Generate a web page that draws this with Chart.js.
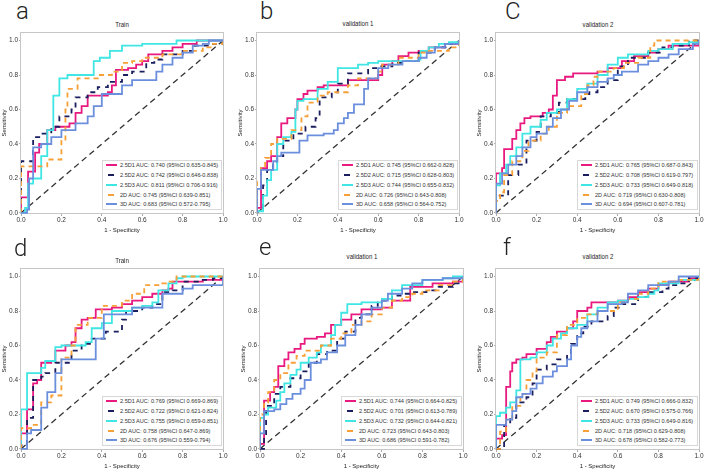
<!DOCTYPE html>
<html lang="en">
<head>
<meta charset="UTF-8" />
<title>ROC curves</title>
<style>
  body { margin: 0; background: #fff; width: 709px; height: 471px; position: relative; overflow: hidden;
         font-family: "Liberation Sans", Arial, sans-serif; }
  .panel { position: absolute; }
  .letter { position: absolute; font-family: Roboto, "Liberation Sans", sans-serif; font-weight: 300;
            font-size: 24px; line-height: 24px; color: #222; }
  .title { position: absolute; font-size: 7px; line-height: 9px; color: #222; transform: translate(-50%, -50%) scaleX(0.87); white-space: nowrap; }
  .legend { position: absolute; background: #fff; border: 1px solid #d8d8d8; box-sizing: border-box; }
  .row { position: absolute; left: 17px; font-size: 6.2px; line-height: 8px; color: #333; white-space: nowrap;
         transform: scaleX(0.9); transform-origin: left center; }
  .swatch { position: absolute; left: 2.5px; width: 11px; height: 0; border-top: 2px solid; }
</style>
</head>
<body>
<script src="https://cdn.jsdelivr.net/npm/chart.js"></script>
<script>
  // ---- data ----
  const seriesNames = ["2.5D1", "2.5D2", "2.5D3", "2D", "3D"];
  const panelLetters = ["a", "b", "C", "d", "e", "f"];
  const panelTitles = ["Train", "validation 1", "validation 2", "Train", "validation 1", "validation 2"];
  const tickValues = [0, 0.2, 0.4, 0.6, 0.8, 1.0];

  const aucA = [0.740, 0.742, 0.811, 0.745, 0.683];
  const ciA = ["0.635-0.845", "0.646-0.838", "0.706-0.916", "0.639-0.851", "0.572-0.795"];
  const aucB = [0.745, 0.715, 0.744, 0.726, 0.658];
  const ciB = ["0.662-0.828", "0.628-0.803", "0.655-0.832", "0.643-0.808", "0.564-0.752"];
  const aucC = [0.765, 0.708, 0.733, 0.719, 0.694];
  const ciC = ["0.687-0.843", "0.619-0.797", "0.649-0.818", "0.630-0.808", "0.607-0.781"];
  const aucD = [0.769, 0.722, 0.755, 0.758, 0.676];
  const ciD = ["0.669-0.869", "0.621-0.824", "0.659-0.851", "0.647-0.869", "0.559-0.794"];
  const aucE = [0.744, 0.701, 0.732, 0.723, 0.686];
  const ciE = ["0.664-0.825", "0.613-0.789", "0.644-0.821", "0.643-0.803", "0.591-0.782"];
  const aucF = [0.749, 0.670, 0.733, 0.718, 0.678];
  const ciF = ["0.666-0.832", "0.575-0.766", "0.649-0.816", "0.629-0.808", "0.582-0.773"];

  // ROC corners [fpr, tpr]
  const a_25D1 = [[0,0],[0,0.09],[0.035,0.24],[0.07,0.35],[0.09,0.4],[0.13,0.48],[0.17,0.5],[0.24,0.52],[0.27,0.58],[0.3,0.62],[0.33,0.68],[0.43,0.7],[0.45,0.74],[0.47,0.83],[0.53,0.84],[0.57,0.86],[0.6,0.88],[0.63,0.92],[0.7,0.94],[0.75,0.96],[0.8,0.98],[0.87,1],[1,1]];
  const a_25D2 = [[0,0],[0,0.3],[0.06,0.44],[0.1,0.46],[0.15,0.5],[0.19,0.56],[0.25,0.6],[0.27,0.67],[0.33,0.7],[0.38,0.73],[0.43,0.76],[0.5,0.8],[0.55,0.82],[0.62,0.87],[0.66,0.89],[0.7,0.92],[0.8,0.94],[0.86,0.97],[0.95,0.98],[1,1]];
  const a_25D3 = [[0,0],[0.02,0.03],[0.035,0.17],[0.06,0.2],[0.1,0.33],[0.13,0.48],[0.16,0.68],[0.19,0.78],[0.23,0.8],[0.36,0.88],[0.39,0.9],[0.44,0.94],[0.5,0.97],[0.6,0.98],[0.77,1],[1,1]];
  const a_2D = [[0,0],[0,0.27],[0.1,0.27],[0.13,0.31],[0.2,0.42],[0.22,0.6],[0.23,0.72],[0.28,0.78],[0.38,0.8],[0.45,0.82],[0.5,0.87],[0.55,0.88],[0.6,0.9],[0.7,0.92],[0.8,0.94],[0.9,0.96],[0.95,0.98],[1,1]];
  const a_3D = [[0,0],[0.03,0.02],[0.04,0.2],[0.06,0.38],[0.1,0.4],[0.15,0.44],[0.2,0.48],[0.27,0.52],[0.33,0.56],[0.36,0.62],[0.4,0.69],[0.5,0.74],[0.55,0.77],[0.67,0.82],[0.7,0.86],[0.75,0.9],[0.8,0.93],[0.85,0.97],[0.9,0.98],[0.93,1],[1,1]];

  const b_25D1 = [[0,0],[0,0.03],[0.02,0.26],[0.05,0.3],[0.07,0.33],[0.1,0.44],[0.12,0.52],[0.15,0.55],[0.19,0.6],[0.2,0.66],[0.23,0.69],[0.25,0.71],[0.3,0.73],[0.33,0.74],[0.45,0.77],[0.6,0.8],[0.62,0.86],[0.67,0.88],[0.7,0.91],[0.75,0.93],[0.8,0.94],[0.85,0.96],[0.93,0.98],[1,1]];
  const b_25D2 = [[0,0],[0,0.03],[0.03,0.16],[0.05,0.25],[0.08,0.28],[0.1,0.33],[0.13,0.42],[0.18,0.46],[0.24,0.5],[0.29,0.55],[0.31,0.67],[0.37,0.7],[0.4,0.75],[0.45,0.81],[0.55,0.84],[0.6,0.85],[0.67,0.87],[0.72,0.88],[0.8,0.93],[0.88,0.96],[0.95,0.98],[1,1]];
  const b_25D3 = [[0,0],[0,0.01],[0.03,0.1],[0.05,0.19],[0.07,0.25],[0.1,0.4],[0.13,0.44],[0.17,0.47],[0.19,0.6],[0.2,0.65],[0.23,0.66],[0.3,0.72],[0.35,0.76],[0.4,0.84],[0.5,0.86],[0.55,0.87],[0.6,0.88],[0.8,0.89],[0.81,0.94],[0.85,0.96],[0.9,0.98],[0.95,0.99],[1,1]];
  const b_2D = [[0,0],[0,0.19],[0.02,0.27],[0.04,0.32],[0.07,0.4],[0.1,0.43],[0.17,0.48],[0.22,0.56],[0.25,0.64],[0.3,0.68],[0.35,0.7],[0.45,0.74],[0.5,0.78],[0.6,0.82],[0.62,0.86],[0.7,0.9],[0.8,0.93],[0.85,0.94],[0.95,0.96],[1,1]];
  const b_3D = [[0,0],[0,0.14],[0.02,0.25],[0.08,0.3],[0.1,0.33],[0.12,0.35],[0.21,0.42],[0.25,0.45],[0.33,0.46],[0.38,0.48],[0.4,0.52],[0.43,0.55],[0.45,0.58],[0.48,0.63],[0.53,0.72],[0.55,0.78],[0.6,0.84],[0.65,0.86],[0.72,0.88],[0.8,0.9],[0.84,0.93],[0.88,0.96],[0.93,0.98],[1,1]];

  const c_25D1 = [[0,0],[0,0.23],[0.03,0.26],[0.04,0.37],[0.08,0.43],[0.1,0.48],[0.12,0.52],[0.14,0.55],[0.17,0.56],[0.23,0.58],[0.26,0.6],[0.28,0.68],[0.3,0.77],[0.34,0.79],[0.38,0.81],[0.5,0.82],[0.55,0.84],[0.62,0.88],[0.68,0.91],[0.75,0.93],[0.8,0.95],[0.85,0.97],[1,0.97],[1,1]];
  const c_25D2 = [[0,0],[0,0.1],[0.06,0.22],[0.11,0.28],[0.15,0.42],[0.2,0.47],[0.22,0.56],[0.27,0.58],[0.31,0.64],[0.35,0.66],[0.44,0.69],[0.46,0.7],[0.5,0.73],[0.55,0.77],[0.6,0.85],[0.65,0.9],[0.75,0.93],[0.82,0.96],[0.87,0.97],[0.95,1],[1,1]];
  const c_25D3 = [[0,0],[0,0.16],[0.02,0.23],[0.05,0.28],[0.07,0.33],[0.1,0.38],[0.13,0.46],[0.17,0.5],[0.22,0.54],[0.25,0.58],[0.3,0.6],[0.35,0.66],[0.4,0.72],[0.45,0.75],[0.5,0.8],[0.55,0.86],[0.6,0.9],[0.65,0.92],[0.75,0.94],[0.8,0.95],[0.87,0.98],[0.95,0.99],[1,1]];
  const c_2D = [[0,0],[0,0.07],[0.02,0.12],[0.04,0.22],[0.08,0.3],[0.13,0.36],[0.16,0.42],[0.22,0.46],[0.26,0.5],[0.3,0.58],[0.35,0.62],[0.42,0.69],[0.45,0.74],[0.48,0.79],[0.5,0.82],[0.58,0.84],[0.63,0.87],[0.7,0.9],[0.76,0.97],[0.78,1],[1,1]];
  const c_3D = [[0,0],[0,0.17],[0.03,0.23],[0.06,0.28],[0.1,0.33],[0.13,0.38],[0.17,0.44],[0.2,0.46],[0.25,0.5],[0.28,0.55],[0.32,0.6],[0.36,0.65],[0.4,0.7],[0.45,0.73],[0.5,0.76],[0.55,0.78],[0.58,0.8],[0.62,0.82],[0.7,0.86],[0.75,0.88],[0.8,0.9],[0.85,0.92],[0.9,0.95],[0.97,0.98],[1,1]];

  const d_25D1 = [[0,0],[0,0.09],[0.03,0.23],[0.06,0.38],[0.08,0.4],[0.1,0.5],[0.15,0.51],[0.17,0.57],[0.22,0.6],[0.25,0.62],[0.27,0.7],[0.3,0.75],[0.33,0.76],[0.37,0.81],[0.45,0.82],[0.5,0.84],[0.55,0.86],[0.6,0.88],[0.65,0.9],[0.7,0.92],[0.73,0.93],[0.75,0.97],[0.9,0.98],[1,1]];
  const d_25D2 = [[0,0],[0,0.02],[0.03,0.18],[0.06,0.4],[0.1,0.42],[0.12,0.44],[0.17,0.5],[0.25,0.57],[0.3,0.61],[0.35,0.64],[0.42,0.68],[0.5,0.75],[0.52,0.8],[0.6,0.82],[0.65,0.84],[0.7,0.91],[0.75,0.92],[0.8,0.97],[0.9,0.98],[0.95,0.99],[1,1]];
  const d_25D3 = [[0,0],[0,0.23],[0.03,0.44],[0.1,0.47],[0.12,0.51],[0.17,0.59],[0.2,0.6],[0.32,0.62],[0.35,0.7],[0.4,0.73],[0.45,0.8],[0.55,0.82],[0.6,0.83],[0.65,0.85],[0.68,0.92],[0.73,0.96],[0.77,0.99],[0.8,1],[1,1]];
  const d_2D = [[0,0],[0,0.12],[0.05,0.14],[0.1,0.27],[0.15,0.31],[0.2,0.53],[0.25,0.6],[0.27,0.72],[0.33,0.76],[0.4,0.83],[0.5,0.86],[0.55,0.9],[0.61,0.95],[0.68,0.96],[0.72,0.97],[0.77,1],[1,1]];
  const d_3D = [[0,0],[0.03,0.09],[0.05,0.11],[0.1,0.24],[0.13,0.33],[0.17,0.44],[0.2,0.52],[0.37,0.64],[0.41,0.78],[0.55,0.82],[0.7,0.9],[0.8,0.93],[0.85,0.95],[1,1]];

  const e_25D1 = [[0,0],[0,0.03],[0.02,0.28],[0.05,0.33],[0.07,0.36],[0.09,0.48],[0.12,0.52],[0.14,0.56],[0.17,0.58],[0.2,0.61],[0.22,0.64],[0.28,0.65],[0.32,0.67],[0.35,0.72],[0.4,0.75],[0.45,0.78],[0.5,0.81],[0.6,0.82],[0.65,0.86],[0.74,0.94],[0.85,0.96],[0.95,0.97],[1,1]];
  const e_25D2 = [[0,0],[0.02,0.08],[0.03,0.25],[0.07,0.32],[0.1,0.36],[0.15,0.41],[0.2,0.45],[0.24,0.5],[0.28,0.55],[0.33,0.57],[0.38,0.64],[0.42,0.68],[0.47,0.76],[0.5,0.78],[0.55,0.83],[0.58,0.86],[0.65,0.89],[0.7,0.9],[0.75,0.91],[0.82,0.92],[0.88,0.94],[0.95,0.96],[1,1]];
  const e_25D3 = [[0,0],[0,0.18],[0.02,0.2],[0.04,0.24],[0.08,0.28],[0.1,0.33],[0.12,0.38],[0.15,0.43],[0.18,0.46],[0.2,0.5],[0.24,0.53],[0.28,0.56],[0.3,0.6],[0.35,0.66],[0.37,0.72],[0.4,0.79],[0.43,0.84],[0.5,0.85],[0.6,0.87],[0.65,0.92],[0.7,0.95],[0.8,0.98],[0.9,0.99],[0.95,1],[1,1]];
  const e_2D = [[0,0],[0,0.2],[0.02,0.27],[0.04,0.33],[0.07,0.4],[0.1,0.44],[0.14,0.5],[0.18,0.54],[0.22,0.57],[0.3,0.6],[0.35,0.64],[0.4,0.67],[0.45,0.72],[0.5,0.74],[0.55,0.78],[0.6,0.82],[0.65,0.86],[0.7,0.88],[0.75,0.9],[0.8,0.92],[0.88,0.95],[0.95,0.97],[1,1]];
  const e_3D = [[0,0],[0,0.09],[0.02,0.22],[0.07,0.23],[0.1,0.26],[0.13,0.29],[0.16,0.32],[0.2,0.35],[0.22,0.4],[0.25,0.5],[0.3,0.52],[0.33,0.56],[0.38,0.6],[0.42,0.66],[0.47,0.72],[0.5,0.78],[0.55,0.82],[0.6,0.86],[0.63,0.9],[0.7,0.93],[0.75,0.96],[0.8,0.98],[0.9,0.99],[1,1]];

  const f_25D1 = [[0,0],[0,0.06],[0.03,0.08],[0.05,0.36],[0.07,0.45],[0.08,0.5],[0.1,0.52],[0.13,0.53],[0.15,0.55],[0.2,0.58],[0.25,0.62],[0.27,0.65],[0.3,0.68],[0.35,0.7],[0.38,0.74],[0.4,0.8],[0.45,0.82],[0.47,0.85],[0.6,0.86],[0.65,0.88],[0.7,0.91],[0.75,0.93],[0.8,0.95],[0.85,0.97],[0.95,0.99],[1,1]];
  const f_25D2 = [[0,0],[0.04,0.14],[0.07,0.18],[0.1,0.27],[0.15,0.3],[0.18,0.38],[0.2,0.46],[0.25,0.49],[0.3,0.52],[0.35,0.55],[0.37,0.61],[0.4,0.67],[0.43,0.71],[0.47,0.74],[0.55,0.77],[0.58,0.82],[0.62,0.84],[0.7,0.88],[0.75,0.91],[0.82,0.93],[0.85,0.95],[0.9,0.96],[0.95,0.99],[1,1]];
  const f_25D3 = [[0,0],[0,0.19],[0.02,0.21],[0.05,0.24],[0.07,0.27],[0.1,0.34],[0.12,0.52],[0.17,0.53],[0.2,0.56],[0.25,0.6],[0.28,0.64],[0.32,0.67],[0.35,0.7],[0.4,0.72],[0.45,0.78],[0.5,0.82],[0.55,0.85],[0.6,0.86],[0.65,0.87],[0.7,0.88],[0.75,0.9],[0.78,0.92],[0.8,0.96],[0.9,0.98],[1,1]];
  const f_2D = [[0,0],[0.02,0.1],[0.05,0.17],[0.08,0.25],[0.12,0.32],[0.15,0.4],[0.18,0.45],[0.2,0.53],[0.25,0.56],[0.3,0.66],[0.35,0.72],[0.4,0.76],[0.45,0.78],[0.5,0.8],[0.6,0.85],[0.65,0.87],[0.7,0.9],[0.75,0.93],[0.8,0.97],[0.9,0.98],[1,1]];
  const f_3D = [[0,0],[0,0.14],[0.05,0.17],[0.08,0.22],[0.1,0.3],[0.13,0.32],[0.17,0.35],[0.2,0.38],[0.23,0.42],[0.28,0.45],[0.3,0.48],[0.35,0.52],[0.37,0.6],[0.4,0.65],[0.42,0.7],[0.45,0.74],[0.5,0.8],[0.55,0.84],[0.62,0.85],[0.65,0.9],[0.7,0.92],[0.75,0.95],[0.85,0.97],[0.9,1],[1,1]];

  const chance = [[0,0],[1,1]];

  // ---- layout / style ----
  const panelCurves = [
    [a_25D1, a_25D2, a_25D3, a_2D, a_3D],
    [b_25D1, b_25D2, b_25D3, b_2D, b_3D],
    [c_25D1, c_25D2, c_25D3, c_2D, c_3D],
    [d_25D1, d_25D2, d_25D3, d_2D, d_3D],
    [e_25D1, e_25D2, e_25D3, e_2D, e_3D],
    [f_25D1, f_25D2, f_25D3, f_2D, f_3D]
  ];
  const panelAuc = [aucA, aucB, aucC, aucD, aucE, aucF];
  const panelCi = [ciA, ciB, ciC, ciD, ciE, ciF];

  // plot area [left, top, right, bottom] in page pixels
  const plotBoxes = [
    [21, 29, 223, 214], [257, 29, 459, 214], [496, 29, 699, 214],
    [21, 265, 223, 450], [260, 265, 463, 450], [496, 265, 699, 450]
  ];
  const titleY = [24, 22.5, 23.5, 259.5, 256, 256];
  const letterPos = [[16, -1], [260, -1], [505, -1.5], [14, 236], [259, 234.5], [503, 234.5]];

  const colors = ["#e8197f", "#1b1e5e", "#3fe6e4", "#f6a037", "#6b8fdd"];
  const dashes = [[], [5, 5], [], [5, 4], []];

  const framePlugin = {
    id: "frame",
    beforeDatasetsDraw(chart) {
      const a = chart.chartArea, ctx = chart.ctx;
      ctx.save();
      ctx.strokeStyle = "#c6c6c6";
      ctx.lineWidth = 1;
      ctx.strokeRect(Math.round(a.left) - 0.5, Math.round(a.top) + 0.5,
                     Math.round(a.right - a.left) + 1, Math.round(a.bottom - a.top) - 1);
      ctx.restore();
    }
  };

  const fontFamily = "'Liberation Sans', Arial, sans-serif";
  const tickFont = { family: fontFamily, size: 6.5 };
  const axisTitleFont = { family: fontFamily, size: 6 };

  function makePanel(i) {
    const [L, T, R, B] = plotBoxes[i];

    const letter = document.createElement("div");
    letter.className = "letter";
    letter.textContent = panelLetters[i];
    letter.style.left = letterPos[i][0] + "px";
    letter.style.top = letterPos[i][1] + "px";
    document.body.appendChild(letter);

    const title = document.createElement("div");
    title.className = "title";
    title.textContent = panelTitles[i];
    title.style.left = (L + R) / 2 + "px";
    title.style.top = titleY[i] + "px";
    document.body.appendChild(title);

    const wrap = document.createElement("div");
    wrap.className = "panel";
    wrap.style.left = (L - 22) + "px";
    wrap.style.top = (T - 2) + "px";
    const canvas = document.createElement("canvas");
    canvas.width = R - L + 30;
    canvas.height = B - T + 24;
    wrap.appendChild(canvas);
    document.body.appendChild(wrap);

    const datasets = panelCurves[i].map((c, k) => ({
      label: seriesNames[k],
      data: c.map(p => ({ x: p[0], y: p[1] })),
      borderColor: colors[k],
      borderWidth: 1.8,
      borderDash: dashes[k],
      stepped: true,
      pointRadius: 0,
      fill: false,
      order: 5 - k
    }));
    datasets.push({
      label: "chance",
      data: chance.map(p => ({ x: p[0], y: p[1] })),
      borderColor: "#333",
      borderWidth: 1.3,
      borderDash: [6, 4],
      pointRadius: 0,
      fill: false,
      order: 10
    });

    new Chart(canvas, {
      type: "line",
      data: { datasets },
      plugins: [framePlugin],
      options: {
        responsive: false,
        animation: false,
        events: [],
        layout: { padding: { top: 2, right: 8, left: 0, bottom: 0 } },
        plugins: { legend: { display: false }, tooltip: { enabled: false } },
        scales: {
          x: {
            type: "linear", min: 0, max: 1,
            afterBuildTicks: s => { s.ticks = tickValues.map(v => ({ value: v })); },
            afterFit: s => { s.height = 22; },
            border: { display: false },
            grid: { drawOnChartArea: false, drawTicks: true, tickLength: 2, color: "#aaa" },
            ticks: { font: tickFont, color: "#333", padding: 0, maxRotation: 0,
                     callback: v => v.toFixed(1) },
            title: { display: true, text: "1 - Specificity", color: "#222",
                     font: axisTitleFont, padding: { top: 0, bottom: 2 } }
          },
          y: {
            type: "linear", min: -0.006, max: 1.05,
            afterBuildTicks: s => { s.ticks = tickValues.map(v => ({ value: v })); },
            afterFit: s => { s.width = 22; },
            border: { display: false },
            grid: { drawOnChartArea: false, drawTicks: true, tickLength: 2, color: "#aaa" },
            ticks: { font: tickFont, color: "#333", padding: 1,
                     callback: v => v.toFixed(1) },
            title: { display: true, text: "Sensitivity", color: "#222",
                     font: axisTitleFont, padding: { top: 2, bottom: 0 } }
          }
        }
      }
    });

    // legend box inside the plot, lower right
    const lg = document.createElement("div");
    lg.className = "legend";
    lg.style.left = (L + 81) + "px";
    lg.style.top = (T + 130.5) + "px";
    lg.style.width = (R - 1 - (L + 81)) + "px";
    lg.style.height = "50px";
    seriesNames.forEach((name, k) => {
      const cy = 4.7 + k * 9.8;
      const sw = document.createElement("span");
      sw.className = "swatch";
      sw.style.borderTopColor = colors[k];
      sw.style.top = (cy - 1) + "px";
      if (dashes[k].length) { sw.style.width = "6px"; sw.style.left = "5px"; }
      lg.appendChild(sw);
      const row = document.createElement("div");
      row.className = "row";
      row.style.top = (cy - 4) + "px";
      row.textContent = name + " AUC: " + panelAuc[i][k].toFixed(3) + " (95%CI " + panelCi[i][k] + ")";
      lg.appendChild(row);
    });
    document.body.appendChild(lg);
  }

  for (let i = 0; i < 6; i++) makePanel(i);
</script>
</body>
</html>
